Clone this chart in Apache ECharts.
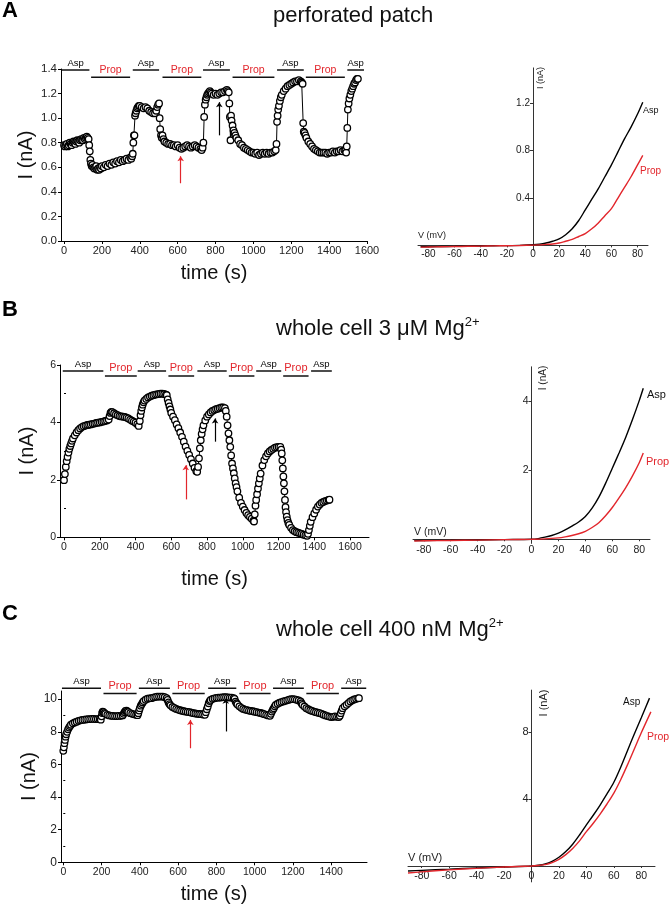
<!DOCTYPE html>
<html><head><meta charset="utf-8">
<script src="https://cdn.jsdelivr.net/npm/echarts@6/dist/echarts.min.js"></script>
<style>html,body{margin:0;padding:0;background:#fff}#c{width:670px;height:908px}</style>
</head><body><div id="c"></div><script>
// ---------- Panel A (perforated patch) time course: [time s, I nA]
const traceA = [[0,0.78],[5,0.77],[10,0.78],[15,0.79],[20,0.77],[25,0.78],[30,0.80],[35,0.79],[40,0.78],[45,0.80],[50,0.81],[55,0.80],[60,0.79],[65,0.81],[70,0.82],[75,0.81],[80,0.80],[85,0.82],[90,0.83],[95,0.82],[100,0.82],[105,0.84],[110,0.83],[115,0.84],[120,0.85],[125,0.84],[130,0.83],[133,0.78],[136,0.73],[139,0.66],[142,0.63],[146,0.61],[150,0.62],[155,0.60],[160,0.59],[165,0.60],[170,0.61],[175,0.58],[180,0.59],[185,0.58],[190,0.60],[195,0.59],[200,0.61],[210,0.60],[220,0.62],[230,0.61],[240,0.63],[250,0.62],[260,0.64],[270,0.63],[280,0.65],[290,0.64],[300,0.66],[310,0.65],[320,0.66],[330,0.67],[340,0.66],[350,0.68],[355,0.67],[360,0.69],[363,0.71],[366,0.80],[369,0.86],[372,0.86],[375,1.02],[378,1.04],[382,1.06],[386,1.08],[390,1.09],[395,1.10],[400,1.10],[410,1.09],[420,1.08],[430,1.09],[440,1.08],[450,1.06],[460,1.05],[470,1.04],[480,1.04],[487,1.06],[492,1.09],[497,1.11],[502,1.12],[505,1.00],[508,0.91],[512,0.86],[516,0.84],[520,0.86],[525,0.83],[530,0.81],[540,0.80],[550,0.79],[560,0.79],[570,0.78],[580,0.78],[590,0.77],[600,0.78],[610,0.76],[620,0.75],[630,0.76],[640,0.77],[650,0.78],[660,0.77],[670,0.76],[680,0.77],[690,0.78],[700,0.77],[710,0.76],[720,0.75],[727,0.74],[732,0.76],[736,0.80],[740,1.01],[744,1.11],[748,1.15],[752,1.17],[756,1.19],[760,1.20],[765,1.21],[770,1.22],[775,1.21],[780,1.20],[790,1.19],[800,1.20],[810,1.19],[820,1.20],[830,1.21],[840,1.21],[850,1.22],[860,1.23],[865,1.22],[870,1.21],[873,1.12],[876,1.01],[879,0.82],[882,1.02],[885,0.98],[890,0.94],[895,0.90],[900,0.88],[905,0.86],[910,0.84],[920,0.82],[930,0.79],[940,0.78],[950,0.76],[960,0.75],[970,0.74],[980,0.73],[990,0.72],[1000,0.72],[1010,0.71],[1020,0.72],[1030,0.70],[1040,0.71],[1050,0.72],[1060,0.71],[1070,0.72],[1080,0.71],[1090,0.72],[1100,0.72],[1110,0.73],[1118,0.74],[1122,0.79],[1125,0.97],[1128,1.02],[1131,1.07],[1135,1.10],[1140,1.14],[1145,1.17],[1150,1.19],[1160,1.22],[1170,1.24],[1180,1.26],[1190,1.27],[1200,1.28],[1210,1.29],[1220,1.30],[1230,1.30],[1240,1.31],[1250,1.30],[1255,1.29],[1260,1.28],[1263,0.96],[1266,0.89],[1270,0.88],[1275,0.86],[1280,0.84],[1290,0.81],[1300,0.79],[1310,0.77],[1320,0.75],[1330,0.74],[1340,0.73],[1350,0.72],[1360,0.72],[1370,0.72],[1380,0.72],[1390,0.71],[1400,0.72],[1410,0.72],[1420,0.73],[1430,0.72],[1440,0.73],[1450,0.73],[1460,0.74],[1470,0.73],[1480,0.74],[1486,0.74],[1490,0.72],[1493,0.77],[1496,0.92],[1499,1.07],[1503,1.12],[1507,1.16],[1512,1.19],[1517,1.22],[1522,1.24],[1527,1.26],[1532,1.28],[1537,1.29],[1542,1.31],[1547,1.32],[1552,1.32]];
const aspBarsA = [[-12,134],[363,502],[734,876],[1125,1266],[1496,1584]];
const propBarsA = [[143,349],[520,725],[890,1111],[1277,1483]];
const redArrowA = [616, 0.47, 0.69];
const blackArrowA = [820, 0.86, 1.13];
const timeTicksA = [0,200,400,600,800,1000,1200,1400,1600];
const currTicksA = [0,0.2,0.4,0.6,0.8,1.0,1.2,1.4];

// ---------- Panel B (whole cell 3 uM Mg2+)
const traceB = [[0,1.99],[5,2.2],[10,2.45],[15,2.65],[20,2.8],[25,2.95],[30,3.08],[35,3.18],[40,3.27],[45,3.36],[50,3.44],[60,3.55],[70,3.65],[80,3.73],[90,3.79],[100,3.84],[110,3.87],[120,3.89],[130,3.91],[140,3.92],[150,3.93],[160,3.95],[170,3.96],[180,3.98],[190,3.99],[200,4.00],[210,4.02],[220,4.03],[230,4.05],[240,4.07],[250,4.10],[255,4.22],[260,4.33],[265,4.37],[270,4.36],[280,4.32],[290,4.28],[300,4.25],[310,4.22],[320,4.21],[330,4.20],[340,4.19],[350,4.17],[360,4.14],[370,4.10],[380,4.06],[390,4.03],[400,3.99],[410,3.94],[418,3.88],[424,4.05],[428,4.25],[432,4.40],[436,4.52],[440,4.62],[445,4.70],[450,4.76],[460,4.82],[470,4.87],[480,4.90],[490,4.93],[500,4.95],[510,4.97],[520,4.98],[530,4.99],[540,5.00],[550,5.00],[560,4.99],[570,4.97],[575,4.95],[580,4.80],[585,4.68],[590,4.56],[595,4.45],[600,4.33],[610,4.20],[620,4.08],[630,3.93],[640,3.80],[650,3.65],[660,3.50],[670,3.33],[680,3.16],[690,3.01],[700,2.87],[710,2.72],[720,2.57],[730,2.42],[740,2.30],[745,2.28],[750,2.45],[755,2.75],[760,3.10],[765,3.38],[770,3.60],[775,3.76],[780,3.90],[790,4.07],[800,4.20],[810,4.28],[820,4.35],[830,4.40],[840,4.43],[850,4.46],[860,4.48],[870,4.50],[880,4.52],[890,4.52],[900,4.50],[905,4.40],[910,4.20],[915,3.90],[920,3.62],[925,3.38],[930,3.15],[935,2.85],[940,2.57],[945,2.40],[950,2.23],[955,2.05],[960,1.88],[965,1.75],[970,1.60],[980,1.38],[990,1.20],[1000,1.07],[1010,0.95],[1020,0.85],[1030,0.77],[1040,0.71],[1050,0.65],[1060,0.58],[1063,0.55],[1067,0.80],[1071,1.10],[1075,1.30],[1080,1.50],[1085,1.70],[1090,1.88],[1095,2.05],[1100,2.22],[1110,2.50],[1120,2.69],[1130,2.82],[1140,2.92],[1150,2.99],[1160,3.04],[1170,3.08],[1180,3.12],[1190,3.14],[1200,3.15],[1210,3.15],[1215,3.05],[1218,2.92],[1221,2.68],[1224,2.40],[1227,2.12],[1230,1.88],[1233,1.60],[1236,1.30],[1239,1.05],[1242,0.88],[1246,0.72],[1250,0.60],[1255,0.50],[1260,0.43],[1270,0.33],[1280,0.25],[1290,0.21],[1300,0.18],[1310,0.16],[1320,0.14],[1330,0.12],[1340,0.09],[1350,0.07],[1360,0.05],[1365,0.12],[1370,0.25],[1375,0.40],[1380,0.54],[1390,0.70],[1400,0.83],[1410,0.96],[1420,1.07],[1430,1.14],[1440,1.20],[1450,1.23],[1460,1.26],[1470,1.28],[1480,1.30],[1485,1.31]];
const aspBarsB = [[-7,220],[412,571],[746,910],[1075,1215],[1382,1498]];
const propBarsB = [[229,407],[584,728],[922,1065],[1226,1368]];
const redArrowB = [681, 1.32, 2.51];
const blackArrowB = [845, 3.33, 4.14];
const timeTicksB = [0,200,400,600,800,1000,1200,1400,1600];
const currTicksB = [0,2,4,6];
const currMinorB = [1,3,5];

// ---------- Panel C (whole cell 400 nM Mg2+)
const traceC = [[0,6.83],[3,7.05],[6,7.3],[9,7.5],[12,7.7],[15,7.85],[20,8.0],[25,8.15],[30,8.26],[35,8.35],[40,8.43],[50,8.52],[60,8.57],[70,8.62],[80,8.67],[90,8.70],[100,8.73],[110,8.74],[120,8.76],[130,8.77],[140,8.78],[150,8.79],[160,8.79],[170,8.78],[180,8.78],[190,8.77],[196,8.74],[200,8.95],[203,9.15],[206,9.24],[210,9.2],[215,9.14],[220,9.1],[230,9.04],[240,9.0],[250,8.98],[260,8.97],[270,8.96],[280,8.96],[290,8.97],[300,8.98],[310,9.0],[315,9.1],[320,9.2],[325,9.28],[330,9.3],[335,9.25],[340,9.2],[350,9.14],[360,9.1],[370,9.07],[380,9.04],[388,9.02],[392,9.14],[396,9.3],[400,9.45],[405,9.6],[410,9.7],[415,9.8],[420,9.88],[430,9.97],[440,10.03],[450,10.05],[460,10.06],[470,10.1],[480,10.13],[490,10.15],[500,10.16],[510,10.16],[520,10.16],[530,10.12],[540,10.06],[545,9.95],[550,9.8],[555,9.7],[560,9.62],[570,9.52],[580,9.46],[590,9.4],[600,9.36],[610,9.32],[620,9.29],[630,9.26],[640,9.24],[650,9.22],[660,9.2],[670,9.17],[680,9.14],[690,9.12],[700,9.1],[710,9.09],[720,9.08],[730,9.06],[740,9.04],[745,9.2],[750,9.38],[755,9.55],[760,9.75],[765,9.88],[770,9.95],[780,10.02],[790,10.05],[800,10.08],[810,10.09],[820,10.1],[830,10.11],[840,10.12],[850,10.12],[860,10.11],[870,10.1],[880,10.1],[890,10.06],[895,10.02],[900,9.85],[905,9.75],[910,9.68],[920,9.56],[930,9.47],[940,9.4],[950,9.36],[960,9.33],[970,9.3],[980,9.28],[990,9.26],[1000,9.23],[1010,9.2],[1020,9.18],[1030,9.15],[1040,9.12],[1050,9.08],[1060,9.04],[1070,9.0],[1080,8.98],[1085,9.1],[1090,9.24],[1095,9.35],[1100,9.45],[1105,9.56],[1110,9.65],[1120,9.72],[1130,9.78],[1140,9.82],[1150,9.86],[1160,9.9],[1170,9.93],[1180,9.97],[1190,10.0],[1200,10.0],[1210,9.99],[1220,9.96],[1230,9.92],[1240,9.86],[1245,9.75],[1250,9.65],[1260,9.55],[1270,9.45],[1280,9.38],[1290,9.32],[1300,9.28],[1310,9.24],[1320,9.2],[1330,9.17],[1340,9.14],[1350,9.1],[1360,9.05],[1370,9.0],[1380,8.96],[1390,8.93],[1400,8.9],[1410,8.92],[1420,8.94],[1430,8.92],[1440,8.9],[1445,8.98],[1450,9.14],[1455,9.3],[1460,9.45],[1470,9.56],[1480,9.65],[1490,9.76],[1500,9.86],[1510,9.93],[1520,9.98],[1530,10.02],[1540,10.05],[1545,10.06]];
const aspBarsC = [[-7,197],[395,557],[757,904],[1096,1257],[1452,1583]];
const propBarsC = [[210,383],[570,739],[920,1083],[1270,1440]];
const redArrowC = [664, 6.99, 8.73];
const blackArrowC = [849, 8.02, 10.02];
const timeTicksC = [0,200,400,600,800,1000,1200,1400];
const currTicksC = [0,2,4,6,8,10];
const currMinorC = [1,3,5,7,9];

// ---------- I-V curves: [V mV, I nA]
const ivA_asp = [[-86,-0.012],[-80,-0.012],[-70,-0.01],[-60,-0.008],[-50,-0.006],[-40,-0.005],[-30,-0.003],[-20,-0.002],[-10,0.0],[0,0.005],[5,0.01],[10,0.02],[15,0.035],[20,0.055],[25,0.09],[30,0.14],[35,0.21],[40,0.30],[45,0.39],[50,0.48],[55,0.58],[60,0.68],[65,0.79],[70,0.90],[75,1.00],[80,1.11],[84,1.21]];
const ivA_prop = [[-86,-0.015],[-80,-0.014],[-70,-0.012],[-60,-0.01],[-50,-0.008],[-40,-0.006],[-30,-0.004],[-20,-0.003],[-10,-0.001],[0,0.002],[5,0.004],[10,0.008],[15,0.012],[20,0.02],[25,0.035],[30,0.05],[35,0.075],[40,0.10],[45,0.14],[50,0.19],[55,0.25],[60,0.31],[65,0.40],[70,0.49],[75,0.58],[80,0.68],[84,0.76]];
const ivB_asp = [[-87,-0.04],[-80,-0.035],[-60,-0.03],[-40,-0.02],[-20,-0.01],[0,0],[5,0.02],[10,0.06],[15,0.11],[20,0.18],[25,0.27],[30,0.38],[35,0.5],[40,0.66],[45,0.9],[50,1.22],[55,1.62],[60,2.06],[65,2.5],[70,2.96],[75,3.47],[80,4.02],[83,4.38]];
const ivB_prop = [[-87,-0.05],[-80,-0.045],[-60,-0.035],[-40,-0.025],[-20,-0.012],[0,0],[10,0.01],[20,0.04],[25,0.07],[30,0.11],[35,0.16],[40,0.23],[45,0.34],[50,0.48],[55,0.68],[60,0.92],[65,1.2],[70,1.5],[75,1.84],[80,2.22],[83,2.5]];
const ivC_asp = [[-90,-0.3],[-80,-0.26],[-60,-0.19],[-40,-0.12],[-20,-0.06],[0,0],[5,0.04],[10,0.12],[15,0.28],[20,0.52],[25,0.86],[30,1.3],[35,1.85],[40,2.45],[45,3.03],[50,3.64],[55,4.3],[60,5.0],[65,5.9],[70,6.9],[75,7.9],[80,8.85],[86,10.02]];
const ivC_prop = [[-90,-0.42],[-80,-0.35],[-60,-0.23],[-40,-0.14],[-20,-0.06],[0,0],[5,0.03],[10,0.08],[15,0.2],[20,0.4],[25,0.68],[30,1.05],[35,1.5],[40,2.05],[45,2.55],[50,3.1],[55,3.7],[60,4.35],[65,5.15],[70,6.05],[75,7.0],[80,7.95],[87,9.2]];
const ivVTicks = [-80,-60,-40,-20,0,20,40,60,80];
const ivITicksA = [0.4,0.8,1.2];
const ivITicksB = [2,4];
const ivITicksC = [4,8];

// ---------------- styling / layout ----------------
const FONT = "'Liberation Sans', Arial, sans-serif";
const RED = '#e2262c';
const BLK = '#000';
const plain = v => String(v);

const grids = [
  {left:61, top:69, width:306, height:172},     // 0 A time
  {left:418, top:67.9, width:230, height:182.2},// 1 A IV
  {left:60, top:365, width:309, height:172.3},  // 2 B time
  {left:413, top:366.8, width:237, height:176.6},// 3 B IV
  {left:61, top:691, width:306, height:171.3},  // 4 C time
  {left:408, top:690.1, width:247, height:191.8} // 5 C IV
].map(g => Object.assign({outerBoundsMode:'none', containLabel:false}, g));

function tAxisX(gi, min, max, ticks, fs, gap) {
  return {type:'value', gridIndex:gi, min, max,
    axisLine:{show:true, onZero:false, lineStyle:{color:BLK, width:1}},
    axisTick:{show:true, customValues:ticks, length:3, lineStyle:{color:BLK}},
    axisLabel:{customValues:ticks, fontSize:fs, color:'#222', fontFamily:FONT, margin:4, formatter:plain},
    splitLine:{show:false},
    name:'time (s)', nameLocation:'middle', nameGap:gap,
    nameTextStyle:{fontSize:20, color:'#111', fontFamily:FONT}};
}
function tAxisY(gi, min, max, ticks, fs, gap, fmt) {
  return {type:'value', gridIndex:gi, min, max,
    axisLine:{show:true, onZero:false, lineStyle:{color:BLK, width:1}},
    axisTick:{show:true, customValues:ticks, length:3, lineStyle:{color:BLK}},
    axisLabel:{customValues:ticks, fontSize:fs, color:'#222', fontFamily:FONT, margin:4, formatter:fmt||plain},
    splitLine:{show:false},
    name:'I (nA)', nameLocation:'middle', nameGap:gap,
    nameTextStyle:{fontSize:20, color:'#111', fontFamily:FONT}};
}
function minorAxisY(gi, min, max, ticks) {
  return {type:'value', gridIndex:gi, min, max,
    axisLine:{show:false}, axisLabel:{show:false}, splitLine:{show:false},
    axisTick:{show:true, customValues:ticks, length:2, lineStyle:{color:BLK}}};
}
// IV axes: placed at the zero of the other axis via offset
function ivAxisX(gi, min, max, fs, off, margin) {
  return {type:'value', gridIndex:gi, min, max, offset:off,
    axisLine:{show:true, onZero:false, lineStyle:{color:'#333', width:1}},
    axisTick:{show:true, customValues:ivVTicks, length:2, lineStyle:{color:'#333'}},
    axisLabel:{customValues:ivVTicks, fontSize:fs, color:'#222', fontFamily:FONT, margin, formatter:plain},
    splitLine:{show:false}};
}
function ivAxisY(gi, min, max, ticks, fs, off, fmt) {
  return {type:'value', gridIndex:gi, min, max, offset:off,
    axisLine:{show:true, onZero:false, lineStyle:{color:'#333', width:1}},
    axisTick:{show:true, customValues:ticks, length:3, lineStyle:{color:'#333'}},
    axisLabel:{customValues:ticks, fontSize:fs, color:'#222', fontFamily:FONT, margin:3, formatter:fmt||plain},
    splitLine:{show:false}};
}
// offsets = -(pixel distance from grid edge to the zero of the crossing axis)
function zeroOffX(g, min, max) { return -(g.height * (0 - min) / (max - min)); }
function zeroOffY(g, min, max) { return -(g.width * (0 - min) / (max - min)); }

const IVX = [[-88,88],[-88,88],[-90,90]];
const IVY = [[-0.04,1.5],[-0.12,5],[-0.95,10.5]];

const xAxes = [
  tAxisX(0, -16, 1600, timeTicksA, 11, 22),
  ivAxisX(1, IVX[0][0], IVX[0][1], 10, zeroOffX(grids[1], IVY[0][0], IVY[0][1]), 3.5),
  tAxisX(2, -22.4, 1706, timeTicksB, 10.5, 32),
  ivAxisX(3, IVX[1][0], IVX[1][1], 10.5, zeroOffX(grids[3], IVY[1][0], IVY[1][1]), 5),
  tAxisX(4, -12, 1587, timeTicksC, 10.5, 22),
  ivAxisX(5, IVX[2][0], IVX[2][1], 10.5, zeroOffX(grids[5], IVY[2][0], IVY[2][1]), 5)
];
const yAxes = [
  tAxisY(0, 0, 1.4, currTicksA, 11.5, 25, v => v.toFixed(1)),
  ivAxisY(1, IVY[0][0], IVY[0][1], ivITicksA, 10, zeroOffY(grids[1], IVX[0][0], IVX[0][1]), v => v.toFixed(1)),
  tAxisY(2, 0, 6, currTicksB, 10.5, 23),
  ivAxisY(3, IVY[1][0], IVY[1][1], ivITicksB, 10.5, zeroOffY(grids[3], IVX[1][0], IVX[1][1])),
  tAxisY(4, 0, 10.5, currTicksC, 12, 21),
  ivAxisY(5, IVY[2][0], IVY[2][1], ivITicksC, 11, zeroOffY(grids[5], IVX[2][0], IVX[2][1])),
  minorAxisY(2, 0, 6, currMinorB),   // 6
  minorAxisY(4, 0, 10.5, currMinorC) // 7
];

const series = [];
function traceSeries(ai, data, arrows) {
  series.push({type:'line', xAxisIndex:ai, yAxisIndex:ai, data,
    showSymbol:true, showAllSymbol:true, symbol:'circle', symbolSize:6.5,
    itemStyle:{color:'#fff', borderColor:BLK, borderWidth:1.3},
    lineStyle:{color:BLK, width:1}, silent:true, z:3,
    markLine:{silent:true, symbol:['none','arrow'], symbolSize:5, animation:false,
      label:{show:false},
      data: arrows.map(a => [{coord:[a.p[0], a.p[1]], lineStyle:{color:a.c, width:1.2, type:'solid'}, itemStyle:{color:a.c}},
                             {coord:[a.p[0], a.p[2]]}])}
  });
}
function barSeries(ai, bars, yLine, yLab, name, color, fs) {
  bars.forEach(b => {
    series.push({type:'line', xAxisIndex:ai, yAxisIndex:ai, data:[[b[0], yLine],[b[1], yLine]],
      showSymbol:false, clip:false, lineStyle:{color:'#111', width:1.5}, silent:true});
  });
  series.push({type:'scatter', xAxisIndex:ai, yAxisIndex:ai, clip:false, symbolSize:0, silent:true,
    itemStyle:{opacity:1},
    data: bars.map(b => ({name, value:[(b[0]+b[1])/2, yLab]})),
    label:{show:true, position:'inside', formatter:'{b}', color, opacity:1, fontSize:fs, fontFamily:FONT}});
}
function ivSeries(ai, data, color) {
  series.push({type:'line', xAxisIndex:ai, yAxisIndex:ai, data, showSymbol:false, smooth:0.3,
    clip:false, lineStyle:{color, width:1.4}, silent:true});
}

// Panel A
traceSeries(0, traceA, [{p:redArrowA, c:RED}, {p:blackArrowA, c:BLK}]);
barSeries(0, aspBarsA, 1.392, 1.449, 'Asp', '#000', 9.5);
barSeries(0, propBarsA, 1.332, 1.392, 'Prop', RED, 10.5);
ivSeries(1, ivA_asp, BLK);
ivSeries(1, ivA_prop, RED);
// Panel B
traceSeries(2, traceB, [{p:redArrowB, c:RED}, {p:blackArrowB, c:BLK}]);
barSeries(2, aspBarsB, 5.79, 6.03, 'Asp', '#000', 9.5);
barSeries(2, propBarsB, 5.62, 5.88, 'Prop', RED, 11);
ivSeries(3, ivB_asp, BLK);
ivSeries(3, ivB_prop, RED);
// Panel C
traceSeries(4, traceC, [{p:redArrowC, c:RED}, {p:blackArrowC, c:BLK}]);
barSeries(4, aspBarsC, 10.67, 11.08, 'Asp', '#000', 9.5);
barSeries(4, propBarsC, 10.34, 10.82, 'Prop', RED, 11);
ivSeries(5, ivC_asp, BLK);
ivSeries(5, ivC_prop, RED);

function txt(x, y, text, size, color, opts) {
  return Object.assign({type:'text', x, y, silent:true,
    style:Object.assign({text, fill:color||'#111', font:`${size}px ${FONT}`, textAlign:'left', textVerticalAlign:'middle'}, (opts&&opts.style)||{})},
    (opts&&opts.el)||{});
}
function titleWithSup(x, y, main, sup) {
  return {type:'text', x, y, silent:true, style:{
    text:`{a|${main}}{s|${sup}}`, textAlign:'left', textVerticalAlign:'middle',
    rich:{a:{fontSize:22, fontFamily:FONT, fill:'#111', color:'#111', lineHeight:26},
          s:{fontSize:13, fontFamily:FONT, fill:'#111', color:'#111', verticalAlign:'top', lineHeight:14}}}};
}
const rot = {el:{rotation:Math.PI/2}, style:{textAlign:'center'}};
const graphic = [
  txt(2, 11, 'A', 22, '#000', {style:{font:`bold 22px ${FONT}`}}),
  txt(2, 310, 'B', 22, '#000', {style:{font:`bold 22px ${FONT}`}}),
  txt(2, 614, 'C', 22, '#000', {style:{font:`bold 22px ${FONT}`}}),
  txt(273, 16, 'perforated patch', 22, '#111'),
  titleWithSup(276, 329, 'whole cell 3 \u03bcM Mg', '2+'),
  titleWithSup(276, 630, 'whole cell 400 nM Mg', '2+'),
  // IV annotations
  txt(418, 236, 'V (mV)', 9, '#222'),
  txt(541, 78, 'I (nA)', 9, '#222', rot),
  txt(643, 111, 'Asp', 9, '#111'),
  txt(640, 171, 'Prop', 10, RED),
  txt(414, 532, 'V (mV)', 10.5, '#222'),
  txt(543, 378, 'I (nA)', 10, '#222', rot),
  txt(647, 395, 'Asp', 11, '#111'),
  txt(646, 462, 'Prop', 11, RED),
  txt(408, 858, 'V (mV)', 11, '#222'),
  txt(543.5, 703, 'I (nA)', 11, '#222', rot),
  txt(623, 702, 'Asp', 10, '#111'),
  txt(647, 737, 'Prop', 10.5, RED)
];

const chart = echarts.init(document.getElementById('c'), null, {renderer:'canvas'});
chart.setOption({animation:false, backgroundColor:'#fff', grid:grids, xAxis:xAxes, yAxis:yAxes, series, graphic});
</script></body></html>
